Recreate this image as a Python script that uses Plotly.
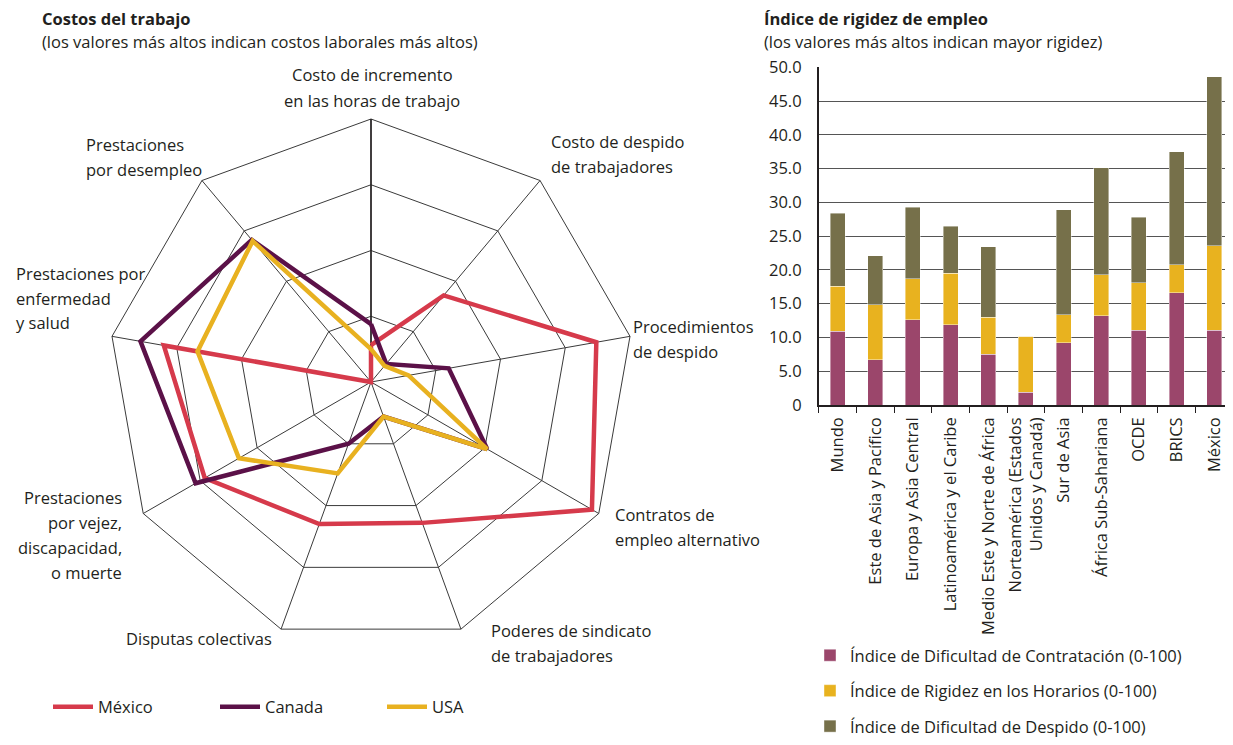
import plotly.graph_objects as go

# the page body keeps its 8px default margin, so the figure is drawn inside it
FW, FH = 1217, 729
OFF = 8
FONT = "Open Sans"
INK = "#231f20"

# ---- radar: labour costs (0-100 scale) ----
radar_axes = [
    "Costo de incremento en las horas de trabajo",
    "Costo de despido de trabajadores",
    "Procedimientos de despido",
    "Contratos de empleo alternativo",
    "Poderes de sindicato de trabajadores",
    "Disputas colectivas",
    "Prestaciones por vejez, discapacidad, o muerte",
    "Prestaciones por enfermedad y salud",
    "Prestaciones por desempleo",
]
mexico = [14, 43, 87, 97, 57, 57.5, 73, 80, 0]
canada = [22, 9, 30, 51, 14, 25, 77, 89, 70.5]
usa = [12.5, 8, 14.5, 51, 14, 37, 58, 67, 70]

# ---- stacked bars: employment rigidity ----
regions = [
    "Mundo",
    "Este de Asia y Pacífico",
    "Europa y Asia Central",
    "Latinoamérica y el Caribe",
    "Medio Este y Norte de África",
    "Norteamérica (Estados<br>Unidos y Canadá)",
    "Sur de Asia",
    "África Sub-Sahariana",
    "OCDE",
    "BRICS",
    "México",
]
contratacion = [10.9, 6.7, 12.6, 11.9, 7.5, 1.9, 9.2, 13.2, 11.1, 16.6, 11.1]
horarios = [6.65, 8.15, 6.1, 7.6, 5.5, 8.3, 4.2, 6.1, 7.0, 4.2, 12.5]
despido = [10.85, 7.25, 10.6, 6.95, 10.4, 0, 15.5, 15.85, 9.7, 16.7, 25.0]
y_ticks = [0, 5, 10, 15, 20, 25, 30, 35, 40, 45, 50]
y_ticktext = ["0"] + [f"{v:.1f}" for v in y_ticks[1:]]


def px(x, y):
    # screen pixel -> paper fraction
    return (x - OFF) / FW, 1 - (y - OFF) / FH


fig = go.Figure()

# radar lines
for name, vals, color in [("México", mexico, "#d63a4b"),
                          ("Canada", canada, "#5b1148"),
                          ("USA", usa, "#e8b120")]:
    fig.add_trace(go.Scatterpolar(
        r=vals + vals[:1],
        theta=radar_axes + radar_axes[:1],
        mode="lines",
        name=name,
        line=dict(color=color, width=4.5),
        legend="legend",
    ))

# stacked bars
bar_series = [
    ("Índice de Dificultad de Contratación (0-100)", contratacion, "#9b466b"),
    ("Índice de Rigidez en los Horarios (0-100)", horarios, "#e8b21f"),
    ("Índice de Dificultad de Despido (0-100)", despido, "#76704a"),
]
for i, (name, vals, color) in enumerate(bar_series):
    fig.add_trace(go.Bar(
        x=regions, y=vals, name=name, width=0.4,
        marker=dict(color=color, line=dict(color="rgba(255,255,255,0.7)", width=0.6)),
        legend="legend2", legendgroup=f"g{i}",
    ))

# axis labels around the radar (line by line to get the wide leading)
radar_labels = [
    (["Costo de incremento", "en las horas de trabajo"], 372, 75, "center"),
    (["Costo de despido", "de trabajadores"], 549, 141, "left"),
    (["Procedimientos", "de despido"], 631, 326, "left"),
    (["Contratos de", "empleo alternativo"], 613, 514, "left"),
    (["Poderes de sindicato", "de trabajadores"], 489, 630, "left"),
    (["Disputas colectivas"], 274, 638, "right"),
    (["Prestaciones", "por vejez,", "discapacidad,", "o muerte"], 124, 497, "right"),
    (["Prestaciones por", "enfermedad", "y salud"], 14, 273, "left"),
    (["Prestaciones", "por desempleo"], 84, 144, "left"),
]
annotations = []
for lines, x0, y0, anchor in radar_labels:
    for k, line in enumerate(lines):
        ax, ay = px(x0, y0 + k * 25)
        annotations.append(dict(text=line, x=ax, y=ay, xref="paper", yref="paper",
                                xanchor=anchor, yanchor="middle", showarrow=False,
                                font=dict(size=16.5, color=INK)))

for text, x0, y0 in [("<b>Costos del trabajo</b>", 41, 19),
                     ("(los valores más altos indican costos laborales más altos)", 41, 41),
                     ("<b>Índice de rigidez de empleo</b>", 763, 19),
                     ("(los valores más altos indican mayor rigidez)", 763, 41)]:
    ax, ay = px(x0, y0)
    annotations.append(dict(text=text, x=ax, y=ay, xref="paper", yref="paper",
                            xanchor="left", yanchor="middle", showarrow=False,
                            borderpad=0, font=dict(size=16.5, color=INK)))

# radar: centre (371, 382), radius 263 on screen
p_x0, p_y0 = px(371 - 263, 382 + 263)
p_x1, p_y1 = px(371 + 263, 382 - 263)
# bars: y axis at x=818.7, zero at y=405, 50 at y=67.3; 37.67 px per category
b_x0, b_y0 = px(818.7, 405)
_, b_y1 = px(818.7, 67.3)
x_hi = -0.5 + (FW + OFF - 818.7) / 37.67

fig.update_layout(
    width=FW, height=FH,
    margin=dict(l=0, r=0, t=0, b=0, autoexpand=False),
    paper_bgcolor="white", plot_bgcolor="white",
    font=dict(family=FONT, size=16.5, color=INK),
    barmode="stack",
    polar=dict(
        domain=dict(x=[p_x0, p_x1], y=[p_y0, p_y1]),
        bgcolor="white",
        gridshape="linear",
        radialaxis=dict(range=[0, 100], tickvals=[25, 50, 75, 100], showticklabels=False,
                        ticks="", showline=True, linecolor=INK, linewidth=1.5,
                        gridcolor="#3a3a3a", gridwidth=0.8, angle=90, layer="below traces"),
        angularaxis=dict(direction="clockwise", rotation=90, showticklabels=False, ticks="",
                         gridcolor="#3a3a3a", gridwidth=0.8, linecolor="#3a3a3a", linewidth=1,
                         layer="below traces"),
    ),
    xaxis=dict(domain=[b_x0, 1], anchor="y", type="category", range=[-0.5, x_hi],
               showline=True, linecolor=INK, linewidth=1.5, ticks="outside",
               tickson="boundaries", ticklen=6, tickcolor=INK, tickangle=-90,
               ticklabelstandoff=4, showgrid=False, tickfont=dict(size=16.5)),
    yaxis=dict(domain=[b_y0, b_y1], anchor="x", range=[0, 50],
               tickvals=y_ticks, ticktext=y_ticktext, showgrid=True,
               gridcolor="#555555", gridwidth=1.2, zeroline=False,
               showline=True, linecolor=INK, linewidth=1.5, ticks="",
               ticklabelstandoff=12, tickfont=dict(size=16.5)),
    legend=dict(orientation="h", x=40 / FW, y=px(0, 707)[1], xanchor="left", yanchor="middle",
                bgcolor="rgba(0,0,0,0)", itemwidth=40, entrywidth=112,
                font=dict(size=16.5)),
    legend2=dict(orientation="v", x=802 / FW, y=px(0, 638)[1], xanchor="left", yanchor="top",
                 bgcolor="rgba(0,0,0,0)", traceorder="grouped", tracegroupgap=11,
                 font=dict(size=16.5)),
    annotations=annotations,
)

fig.write_html("out.html")
